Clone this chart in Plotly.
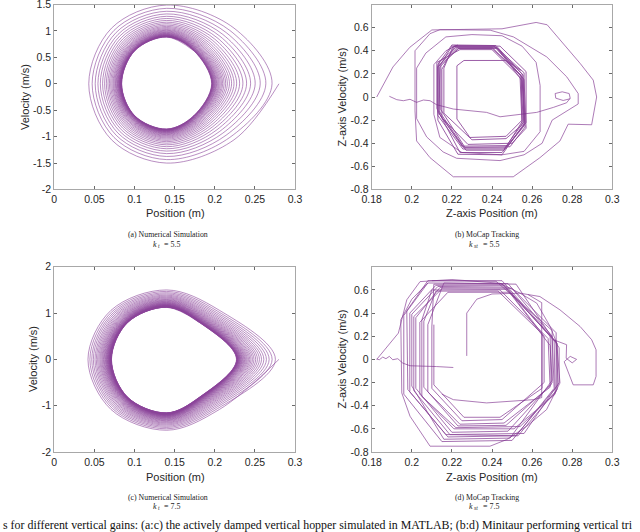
import plotly.graph_objects as go

PURPLE = '#7E2F8E'

# ---- (a) numerical simulation, k_t = 5.5 : per-loop extents of the spiral
a_peak = 0.14
a_xmax = [0.280, 0.2714, 0.2637, 0.2567, 0.2504, 0.2447, 0.2397, 0.2351, 0.2310, 0.2273,
          0.2240, 0.2210, 0.2183, 0.2158, 0.2137, 0.2117, 0.2099, 0.2084, 0.2069, 0.2056,
          0.2045, 0.2034, 0.2024, 0.2017, 0.2009, 0.2002, 0.1996, 0.1990, 0.1985, 0.1980,
          0.1976, 0.1973, 0.1969, 0.1967, 0.1964, 0.1962]
a_vbot = [-1.500, -1.434, -1.375, -1.321, -1.273, -1.229, -1.190, -1.155, -1.124, -1.095,
          -1.070, -1.047, -1.026, -1.008, -0.991, -0.976, -0.962, -0.950, -0.939, -0.929,
          -0.921, -0.912, -0.905, -0.899, -0.893, -0.888, -0.883, -0.878, -0.874, -0.871,
          -0.868, -0.865, -0.862, -0.860, -0.858, -0.857]
a_xmin = [0.0430, 0.0472, 0.0510, 0.0544, 0.0574, 0.0602, 0.0627, 0.0649, 0.0669, 0.0687,
          0.0703, 0.0718, 0.0732, 0.0743, 0.0754, 0.0763, 0.0772, 0.0780, 0.0787, 0.0793,
          0.0799, 0.0804, 0.0809, 0.0813, 0.0816, 0.0820, 0.0823, 0.0826, 0.0828, 0.0830,
          0.0832, 0.0834, 0.0836, 0.0837, 0.0838, 0.0840]
a_vtop = [1.490, 1.428, 1.372, 1.322, 1.277, 1.236, 1.199, 1.166, 1.137, 1.110,
          1.086, 1.065, 1.045, 1.027, 1.012, 0.998, 0.985, 0.974, 0.963, 0.954,
          0.946, 0.938, 0.931, 0.925, 0.920, 0.915, 0.910, 0.906, 0.902, 0.899,
          0.896, 0.894, 0.891, 0.889, 0.887, 0.886]

# ---- (c) numerical simulation, k_t = 7.5
c_peak = 0.14
c_xmax = [0.2800, 0.2756, 0.2715, 0.2678, 0.2644, 0.2612, 0.2583, 0.2557, 0.2532, 0.2510,
          0.2489, 0.2470, 0.2452, 0.2436, 0.2421, 0.2407, 0.2395, 0.2383, 0.2373, 0.2363,
          0.2354, 0.2345, 0.2338, 0.2331, 0.2324, 0.2318, 0.2313, 0.2308, 0.2303, 0.2299,
          0.2295, 0.2291, 0.2288, 0.2285, 0.2282, 0.2280, 0.2278, 0.2275, 0.2273, 0.2271]
c_vbot = [-1.530, -1.499, -1.470, -1.444, -1.419, -1.397, -1.376, -1.358, -1.340, -1.324,
          -1.309, -1.296, -1.284, -1.272, -1.261, -1.252, -1.243, -1.234, -1.227, -1.220,
          -1.214, -1.207, -1.202, -1.197, -1.193, -1.188, -1.184, -1.181, -1.178, -1.175,
          -1.172, -1.169, -1.167, -1.165, -1.163, -1.161, -1.160, -1.158, -1.156, -1.155]
c_xmin = [0.0420, 0.0444, 0.0467, 0.0487, 0.0507, 0.0524, 0.0540, 0.0555, 0.0569, 0.0581,
          0.0593, 0.0603, 0.0613, 0.0622, 0.0630, 0.0638, 0.0645, 0.0651, 0.0657, 0.0662,
          0.0667, 0.0672, 0.0676, 0.0680, 0.0684, 0.0687, 0.0690, 0.0693, 0.0695, 0.0698,
          0.0700, 0.0702, 0.0704, 0.0705, 0.0707, 0.0709, 0.0710, 0.0711, 0.0712, 0.0713]
c_vtop = [1.500, 1.469, 1.440, 1.414, 1.389, 1.367, 1.346, 1.328, 1.310, 1.294,
          1.279, 1.266, 1.254, 1.242, 1.231, 1.222, 1.213, 1.204, 1.197, 1.190,
          1.184, 1.177, 1.172, 1.167, 1.163, 1.158, 1.154, 1.151, 1.148, 1.145,
          1.142, 1.139, 1.137, 1.135, 1.133, 1.131, 1.130, 1.128, 1.126, 1.125]

# ---- (b) MoCap tracking, k_st = 5.5 : (position, velocity) samples
b_outer = [(0.1825, 0.000), (0.1906, 0.260), (0.1990, 0.430), (0.2100, 0.580), (0.2450, 0.590),
           (0.2620, 0.645), (0.2675, 0.625), (0.2755, 0.465), (0.2840, 0.290), (0.2905, 0.146),
           (0.2922, 0.000), (0.2897, -0.240), (0.2822, -0.240), (0.2780, -0.235), (0.2739, -0.380),
           (0.2639, -0.525), (0.2506, -0.690), (0.2207, -0.690), (0.2091, -0.525), (0.2024, -0.380),
           (0.2016, -0.120), (0.2016, 0.400), (0.2091, 0.548), (0.2141, 0.583), (0.2391, 0.578),
           (0.2507, 0.520), (0.2673, 0.347), (0.2773, 0.174), (0.2830, 0.030), (0.2830, -0.060),
           (0.2700, -0.200), (0.2650, -0.400), (0.2560, -0.500), (0.2440, -0.550), (0.2224, -0.530),
           (0.2156, -0.475), (0.2074, -0.345), (0.2024, -0.186), (0.2024, 0.250), (0.2070, 0.380),
           (0.2170, 0.520), (0.2300, 0.540), (0.2450, 0.530), (0.2550, 0.440), (0.2620, 0.300),
           (0.2640, 0.100), (0.2640, -0.300), (0.2560, -0.470), (0.2450, -0.500), (0.2250, -0.480),
           (0.2140, -0.350), (0.2110, -0.150), (0.2110, 0.280), (0.2170, 0.400), (0.2230, 0.450)]
b_core = [(0.2210, 0.440), (0.2410, 0.440), (0.2555, 0.160), (0.2565, -0.230), (0.2470, -0.440), (0.2260, -0.440), (0.2130, -0.130), (0.2130, 0.280),
          (0.2200, 0.450), (0.2420, 0.445), (0.2550, 0.200), (0.2560, -0.250), (0.2480, -0.420), (0.2250, -0.425), (0.2140, -0.150), (0.2135, 0.300),
          (0.2220, 0.430), (0.2400, 0.430), (0.2545, 0.180), (0.2555, -0.200), (0.2460, -0.460), (0.2270, -0.460), (0.2135, -0.120), (0.2140, 0.260),
          (0.2230, 0.420), (0.2430, 0.420), (0.2560, 0.150), (0.2570, -0.270), (0.2500, -0.400), (0.2280, -0.410), (0.2150, -0.180), (0.2150, 0.240),
          (0.2215, 0.445), (0.2440, 0.440), (0.2570, 0.220), (0.2570, -0.220), (0.2450, -0.480), (0.2240, -0.480), (0.2125, -0.100), (0.2125, 0.300),
          (0.2240, 0.410), (0.2400, 0.410), (0.2540, 0.170), (0.2550, -0.240), (0.2470, -0.360), (0.2300, -0.370), (0.2160, -0.140), (0.2160, 0.250),
          (0.2205, 0.435), (0.2415, 0.435), (0.2555, 0.190), (0.2560, -0.210), (0.2460, -0.450), (0.2255, -0.450), (0.2130, -0.160), (0.2130, 0.270),
          (0.2225, 0.425), (0.2425, 0.428), (0.2550, 0.140), (0.2565, -0.260), (0.2490, -0.430), (0.2265, -0.435), (0.2145, -0.110), (0.2145, 0.285),
          (0.2200, 0.440), (0.2410, 0.445), (0.2560, 0.210), (0.2560, -0.230), (0.2450, -0.500), (0.2230, -0.495), (0.2130, -0.200), (0.2130, 0.260),
          (0.2235, 0.420), (0.2400, 0.420), (0.2545, 0.190), (0.2550, -0.200), (0.2470, -0.340), (0.2290, -0.350),
          (0.2225, -0.190), (0.2225, 0.270), (0.2260, 0.316), (0.2473, 0.316), (0.2545, 0.230)]
b_tail = [(0.1888, 0.006), (0.1925, -0.023), (0.1958, -0.032), (0.1991, -0.020), (0.2024, -0.046),
          (0.2058, -0.026), (0.2091, -0.032), (0.2124, -0.067), (0.2207, -0.104), (0.2290, -0.119),
          (0.2373, -0.133), (0.2440, -0.171), (0.2540, -0.148), (0.2623, -0.133), (0.2706, -0.090),
          (0.2772, -0.050), (0.2790, -0.010), (0.2785, 0.030), (0.2750, 0.045), (0.2715, 0.030),
          (0.2718, -0.010), (0.2755, -0.030), (0.2790, -0.015)]

# ---- (d) MoCap tracking, k_st = 7.5
d_outer = [(0.1825, 0.000), (0.1933, 0.227), (0.1975, 0.515), (0.2041, 0.672), (0.2200, 0.690),
           (0.2440, 0.658), (0.2540, 0.572), (0.2623, 0.486), (0.2690, 0.285), (0.2723, 0.141),
           (0.2739, -0.204), (0.2672, -0.434), (0.2573, -0.578), (0.2473, -0.693), (0.2390, -0.750),
           (0.2091, -0.750), (0.1991, -0.491), (0.1950, -0.290), (0.1945, 0.342), (0.2000, 0.520),
           (0.2080, 0.660)]
d_core = [(0.2100, 0.680), (0.2450, 0.680), (0.2720, 0.150), (0.2730, -0.220), (0.2500, -0.700), (0.2150, -0.710), (0.1960, -0.300), (0.1960, 0.380),
          (0.2080, 0.660), (0.2480, 0.655), (0.2700, 0.200), (0.2710, -0.250), (0.2520, -0.660), (0.2180, -0.670), (0.1990, -0.280), (0.1990, 0.400),
          (0.2120, 0.640), (0.2460, 0.640), (0.2690, 0.120), (0.2700, -0.200), (0.2480, -0.620), (0.2200, -0.630), (0.2020, -0.250), (0.2020, 0.360),
          (0.2140, 0.620), (0.2500, 0.615), (0.2720, 0.230), (0.2720, -0.280), (0.2540, -0.580), (0.2220, -0.590), (0.2050, -0.320), (0.2050, 0.340),
          (0.2100, 0.600), (0.2440, 0.600), (0.2680, 0.180), (0.2690, -0.240), (0.2460, -0.550), (0.2240, -0.560), (0.2080, -0.280), (0.2080, 0.300),
          (0.2160, 0.660), (0.2520, 0.650), (0.2735, 0.100), (0.2735, -0.200), (0.2560, -0.640), (0.2170, -0.650), (0.1980, -0.260), (0.1975, 0.420),
          (0.2080, 0.680), (0.2420, 0.675), (0.2700, 0.250), (0.2700, -0.180), (0.2490, -0.680), (0.2160, -0.690), (0.2000, -0.230), (0.2000, 0.390),
          (0.2130, 0.630), (0.2470, 0.625), (0.2710, 0.160), (0.2715, -0.300), (0.2510, -0.600), (0.2210, -0.600), (0.2040, -0.300), (0.2040, 0.320),
          (0.2180, 0.580), (0.2490, 0.580), (0.2660, 0.200), (0.2660, -0.200), (0.2450, -0.520), (0.2250, -0.530), (0.2100, -0.250), (0.2100, 0.280),
          (0.2110, 0.650), (0.2450, 0.650), (0.2725, 0.140), (0.2725, -0.260), (0.2530, -0.660), (0.2190, -0.650), (0.2010, -0.270), (0.2010, 0.370),
          (0.2150, 0.610), (0.2480, 0.605), (0.2690, 0.200), (0.2695, -0.220), (0.2470, -0.570), (0.2230, -0.575), (0.2060, -0.240), (0.2060, 0.330),
          (0.2120, 0.590), (0.2430, 0.590), (0.2650, 0.220), (0.2650, -0.250), (0.2440, -0.500), (0.2260, -0.500), (0.2110, -0.220), (0.2110, 0.300)]
d_inner = [(0.2580, 0.560), (0.2648, 0.490), (0.2648, -0.330), (0.2606, -0.348), (0.2373, -0.376),
           (0.2207, -0.348), (0.2150, -0.300)]
d_right = [(0.2274, 0.030), (0.2274, 0.400), (0.2324, 0.520), (0.2400, 0.565), (0.2540, 0.572),
           (0.2639, 0.543), (0.2739, 0.428), (0.2839, 0.285), (0.2897, 0.170), (0.2919, 0.083),
           (0.2919, -0.147), (0.2905, -0.220), (0.2805, -0.220), (0.2780, -0.118), (0.2760, -0.020),
           (0.2790, 0.026), (0.2822, 0.000), (0.2800, -0.030), (0.2770, 0.010), (0.2772, 0.127),
           (0.2706, 0.170)]
d_tail = [(0.1825, 0.003), (0.1838, -0.003), (0.1855, 0.020), (0.1871, 0.006), (0.1888, 0.026),
          (0.1905, -0.003), (0.1930, 0.006), (0.1955, -0.032), (0.1991, -0.055), (0.2041, -0.060),
          (0.2124, -0.062), (0.2207, -0.070)]

caption_top = ['(a) Numerical Simulation', '(b) MoCap Tracking']
caption_bot = ['(c) Numerical Simulation', '(d) MoCap Tracking']
gain_sub = ['t', 'st']
gain_top = '= 5.5'
gain_bot = '= 7.5'
fig_text = ('s for different vertical gains: (a:c) the actively damped vertical hopper simulated in '
            'MATLAB; (b:d) Minitaur performing vertical tri')

DIAG = 0.707  # 45-degree point of each loop, used for drawing the smooth loop


def spiral(xmax, vbot, xmin, vtop, peak, right_round):
    # each loop: right end, lower right, bottom, lower left, left end, upper left, top, upper right
    xs, vs = [], []
    for i in range(len(xmax)):
        xr = xmax[i] - right_round * (xmax[i] - peak)
        xl = peak - DIAG * (peak - xmin[i])
        xs += [xmax[i], xr, peak, xl, xmin[i], xl, peak, xr]
        vs += [0, DIAG * vbot[i], vbot[i], DIAG * vbot[i], 0, DIAG * vtop[i], vtop[i], DIAG * vtop[i]]
    return xs, vs


fig = go.Figure()

for ax, args in [('', (a_xmax, a_vbot, a_xmin, a_vtop, a_peak, 0.40)),
                 ('3', (c_xmax, c_vbot, c_xmin, c_vtop, c_peak, 0.53))]:
    xs, vs = spiral(*args)
    fig.add_trace(go.Scatter(x=xs, y=vs, mode='lines', xaxis='x' + ax, yaxis='y' + ax,
                             line=dict(color=PURPLE, width=0.6, shape='spline', smoothing=1.0),
                             opacity=0.9, hoverinfo='skip'))

for pts, ax, w in [(b_outer, '2', 0.7), (b_core, '2', 0.85), (b_tail, '2', 0.7),
                   (d_tail, '4', 0.7), (d_outer, '4', 0.7), (d_core, '4', 0.75),
                   (d_inner, '4', 0.7), (d_right, '4', 0.7)]:
    fig.add_trace(go.Scatter(x=[p[0] for p in pts], y=[p[1] for p in pts], mode='lines',
                             xaxis='x' + ax, yaxis='y' + ax,
                             line=dict(color=PURPLE, width=w), opacity=0.9, hoverinfo='skip'))

tickfont = dict(family='Liberation Sans, Arial, sans-serif', size=10.5, color='#262626')
common = dict(showgrid=False, zeroline=False, showline=True, linecolor='#a8a8a8', linewidth=1,
              mirror='ticks', ticks='inside', ticklen=3, tickcolor='#6a6a6a', tickfont=tickfont,
              automargin=False, ticklabeloverflow='allow')

left_dom = [0.0848, 0.4609]
right_dom = [0.5808, 0.9567]
top_dom = [0.6438, 0.9915]
bot_dom = [0.1504, 0.4985]

x_sim = [0, 0.05, 0.1, 0.15, 0.2, 0.25, 0.3]
x_sim_txt = ['0', '0.05', '0.1', '0.15', '0.2', '0.25', '0.3']
x_mc = [0.18, 0.2, 0.22, 0.24, 0.26, 0.28, 0.3]
x_mc_txt = ['0.18', '0.2', '0.22', '0.24', '0.26', '0.28', '0.3']
y_a = [-2, -1.5, -1, -0.5, 0, 0.5, 1, 1.5]
y_a_txt = ['-2', '-1.5', '-1', '-0.5', '0', '0.5', '1', '1.5']
y_c = [-2, -1, 0, 1, 2]
y_c_txt = ['-2', '-1', '0', '1', '2']
y_mc = [-0.8, -0.6, -0.4, -0.2, 0, 0.2, 0.4, 0.6]
y_mc_txt = ['-0.8', '-0.6', '-0.4', '-0.2', '0', '0.2', '0.4', '0.6']

fig.update_layout(
    width=640, height=532, margin=dict(l=0, r=0, t=0, b=0, autoexpand=False),
    paper_bgcolor='white', plot_bgcolor='white', showlegend=False,
    xaxis=dict(domain=left_dom, anchor='y', range=[0, 0.3], tickvals=x_sim, ticktext=x_sim_txt, **common),
    yaxis=dict(domain=top_dom, anchor='x', range=[-2, 1.5], tickvals=y_a, ticktext=y_a_txt, **common),
    xaxis2=dict(domain=right_dom, anchor='y2', range=[0.18, 0.3], tickvals=x_mc, ticktext=x_mc_txt, **common),
    yaxis2=dict(domain=top_dom, anchor='x2', range=[-0.8, 0.8], tickvals=y_mc, ticktext=y_mc_txt, **common),
    xaxis3=dict(domain=left_dom, anchor='y3', range=[0, 0.3], tickvals=x_sim, ticktext=x_sim_txt, **common),
    yaxis3=dict(domain=bot_dom, anchor='x3', range=[-2, 2], tickvals=y_c, ticktext=y_c_txt, **common),
    xaxis4=dict(domain=right_dom, anchor='y4', range=[0.18, 0.3], tickvals=x_mc, ticktext=x_mc_txt, **common),
    yaxis4=dict(domain=bot_dom, anchor='x4', range=[-0.8, 0.8], tickvals=y_mc, ticktext=y_mc_txt, **common),
)

title_font = dict(family='Liberation Sans, Arial, sans-serif', size=11, color='#262626')
SERIF = 'Liberation Serif, Times New Roman, serif'


def px(x, y):
    return x / 640, 1 - y / 532


ann = []


def note(cx, cy, txt, font, xanchor='center', angle=0):
    x, y = px(cx, cy)
    ann.append(dict(x=x, y=y, xref='paper', yref='paper', text=txt, textangle=angle, showarrow=False,
                    font=font, xanchor=xanchor, yanchor='middle', borderpad=0))


# axis titles
for (cx, cy, txt, ang) in [(175, 213, 'Position (m)', 0), (25, 97, 'Velocity (m/s)', -90),
                           (492, 213, 'Z-axis Position (m)', 0), (341.5, 97, 'Z-axis Velocity (m/s)', -90),
                           (175, 477, 'Position (m)', 0), (33, 359, 'Velocity (m/s)', -90),
                           (492, 477, 'Z-axis Position (m)', 0), (341.5, 359, 'Z-axis Velocity (m/s)', -90)]:
    note(cx, cy, txt, title_font, angle=ang)

# sub-captions and gains: caption centre, then centres of k, subscript and value
cap_font = dict(family=SERIF, size=7.8, color='#222222')
k_font = dict(family=SERIF, size=8, color='#222222', style='italic')
sub_font = dict(family=SERIF, size=5.6, color='#222222', style='italic')
val_font = dict(family=SERIF, size=8, color='#222222')
for i, (cx, kx, sx, vx) in enumerate([(168, 155, 158.6, 172.5), (487, 471, 476.2, 491.5)]):
    for (cy, cap, val) in [(235, caption_top[i], gain_top), (497, caption_bot[i], gain_bot)]:
        note(cx, cy, cap, cap_font)
        gy = cy + 9.5
        note(kx, gy, 'k', k_font)
        note(sx, gy + 1.8, gain_sub[i], sub_font)
        note(vx, gy, val, val_font)

note(2, 524.5, fig_text, dict(family=SERIF, size=11.9, color='#111111'), xanchor='left')
fig.update_layout(annotations=ann)

# the page is photographed at its top-left corner, so drop the default body margin
fig.write_html('out.html', config={'displayModeBar': False},
               post_script="document.body.style.margin = '0px';")
